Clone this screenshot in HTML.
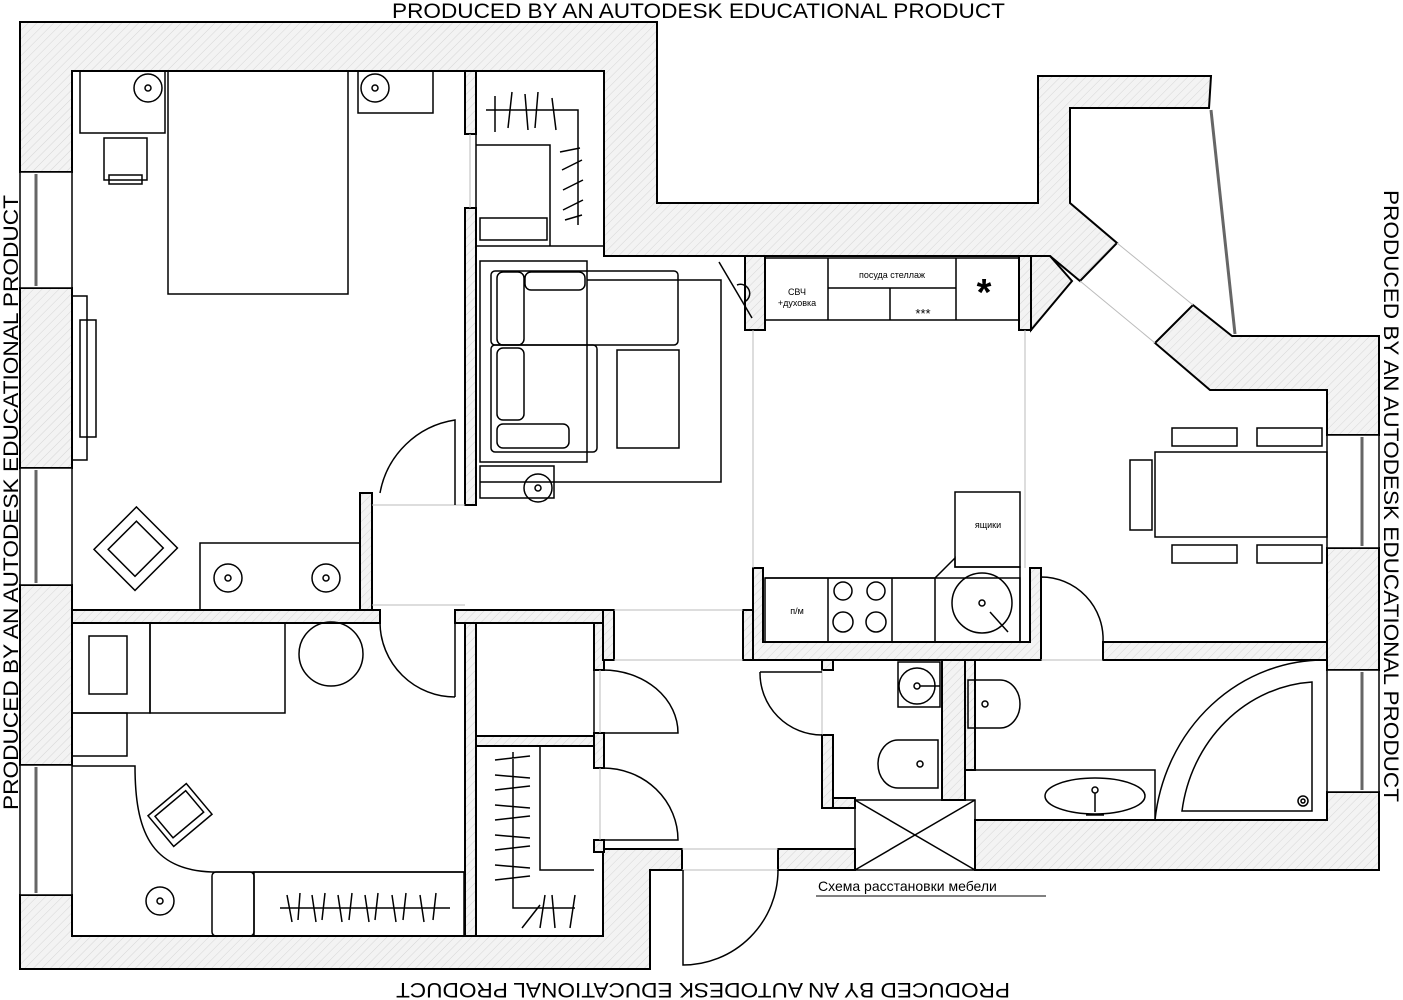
<!DOCTYPE html>
<html><head><meta charset="utf-8"><style>
html,body{margin:0;padding:0;background:#fff;width:1403px;height:1000px;overflow:hidden}
svg{display:block}
text{font-family:"Liberation Sans",sans-serif}
</style></head><body>
<svg width="1403" height="1000" viewBox="0 0 1403 1000" xmlns="http://www.w3.org/2000/svg">
<defs>
<pattern id="h" width="6" height="6" patternUnits="userSpaceOnUse" patternTransform="rotate(45)">
<rect width="6" height="6" fill="#f3f3f3"/><line x1="0" y1="0" x2="0" y2="6" stroke="#d6d6d6" stroke-width="1"/>
</pattern>
</defs>
<g stroke="#000" stroke-width="2" fill="url(#h)">
<!-- top wall -->
<polygon points="20,22 657,22 657,203 1038,203 1038,76 1211,76 1209,108 1070,108 1070,203 1117,243 1080,281 1050,256 604,256 604,71 72,71 72,172 20,172"/>
<!-- bay pillar -->
<polygon points="1193,305 1232,336 1379,336 1379,435 1327,435 1327,390 1210,390 1155,343"/>
<!-- left piers -->
<rect x="20" y="288" width="52" height="180"/>
<rect x="20" y="585" width="52" height="180"/>
<polygon points="20,895 72,895 72,936 603,936 603,849 682,849 682,870 650,870 650,969 20,969"/>
<!-- right pier -->
<rect x="1327" y="548" width="52" height="122"/>
<polygon points="1327,792 1379,792 1379,870 975,870 975,820 1327,820"/>
<rect x="778" y="849" width="77" height="21"/>
<!-- interior walls -->
<rect x="465" y="71" width="11" height="63"/>
<rect x="465" y="208" width="11" height="297"/>
<rect x="360" y="493" width="12" height="117"/>
<rect x="72" y="610" width="308" height="13"/>
<rect x="455" y="610" width="149" height="13"/>
<rect x="465" y="623" width="11" height="313"/>
<rect x="476" y="736" width="128" height="10"/>
<rect x="594" y="623" width="10" height="47"/>
<rect x="594" y="733" width="10" height="35"/>
<rect x="594" y="840" width="10" height="12"/>
<rect x="603" y="610" width="11" height="50"/>
<rect x="743" y="610" width="10" height="50"/>
<polygon points="753,568 763,568 763,642 1030,642 1030,568 1041,568 1041,660 753,660"/>
<rect x="1103" y="642" width="224" height="18"/>
<rect x="745" y="256" width="20" height="74"/>
<rect x="1019" y="256" width="12" height="74"/>
<polygon points="1031,256 1050,256 1072,281 1031,330"/>
<rect x="822" y="660" width="11" height="10"/>
<rect x="822" y="735" width="11" height="73"/>
<rect x="833" y="798" width="22" height="10"/>
<rect x="942" y="660" width="23" height="140"/>
<rect x="965" y="660" width="10" height="110"/>
</g>
<!-- windows -->
<g stroke="#000" stroke-width="1.5" fill="#fff">
<rect x="20" y="172" width="52" height="116"/><rect x="20" y="468" width="52" height="117"/><rect x="20" y="765" width="52" height="130"/>
<rect x="1327" y="435" width="52" height="113"/><rect x="1327" y="670" width="52" height="122"/>
</g>
<g stroke="#666" stroke-width="3">
<line x1="36" y1="174" x2="36" y2="286"/><line x1="36" y1="470" x2="36" y2="583"/><line x1="36" y1="767" x2="36" y2="893"/>
<line x1="1362" y1="437" x2="1362" y2="546"/><line x1="1362" y1="672" x2="1362" y2="790"/>
<line x1="1211" y1="110" x2="1235" y2="334"/>
</g>
<!-- light lines -->
<g stroke="#bbb" stroke-width="1">
<line x1="372" y1="505" x2="465" y2="505"/><line x1="372" y1="605" x2="465" y2="605"/>
<line x1="614" y1="610" x2="743" y2="610"/><line x1="614" y1="660" x2="743" y2="660"/>
<line x1="753" y1="330" x2="753" y2="568"/><line x1="1025" y1="330" x2="1025" y2="568"/>
<line x1="1080" y1="281" x2="1155" y2="343"/><line x1="1117" y1="243" x2="1193" y2="305"/>
<line x1="1041" y1="660" x2="1103" y2="660"/><line x1="682" y1="849" x2="778" y2="849"/><line x1="682" y1="870" x2="778" y2="870"/>
<line x1="470" y1="134" x2="470" y2="208"/><line x1="600" y1="670" x2="600" y2="733"/><line x1="600" y1="768" x2="600" y2="840"/>
<line x1="822" y1="670" x2="822" y2="735"/>
</g>
<g stroke="#000" stroke-width="1.5" fill="none">
<!-- bedroom -->
<rect x="80" y="71" width="85" height="62"/><circle cx="148" cy="88" r="14"/><circle cx="148" cy="88" r="3"/>
<rect x="168" y="71" width="180" height="223"/>
<rect x="358" y="71" width="75" height="42"/><circle cx="375" cy="88" r="14"/><circle cx="375" cy="88" r="3"/>
<rect x="104" y="138" width="43" height="42"/><rect x="109" y="175" width="33" height="9"/>
<rect x="72" y="296" width="15" height="164"/><rect x="80" y="320" width="16" height="117"/>
<g transform="rotate(-45 135 548)"><rect x="105" y="520" width="60" height="58"/><rect x="115" y="530" width="40" height="38"/></g>
<rect x="200" y="543" width="160" height="67"/><circle cx="228" cy="578" r="14"/><circle cx="228" cy="578" r="3"/><circle cx="326" cy="578" r="14"/><circle cx="326" cy="578" r="3"/>
<path d="M380,493 A90 90 0 0 1 455,420 L455,505"/>
<!-- closet top -->
<rect x="476" y="71" width="128" height="175"/>
<polyline points="476,145 550,145 550,246"/><rect x="480" y="218" width="67" height="22"/>
<path d="M486,110 L578,110 L578,225 M495,96 L495,132 M512,92 L508,128 M525,94 L528,130 M538,92 L535,128 M552,98 L556,130 M580,148 L560,152 M582,160 L562,170 M583,180 L563,190 M583,200 L563,210 M582,215 L565,220"/>
<!-- living -->
<rect x="480" y="261" width="107" height="201"/>
<polyline points="587,280 721,280 721,482 480,482"/>
<rect x="491" y="271" width="187" height="74" rx="4"/><rect x="491" y="345" width="106" height="107" rx="4"/>
<rect x="497" y="272" width="27" height="73" rx="6"/><rect x="525" y="272" width="60" height="18" rx="6"/>
<rect x="497" y="348" width="27" height="72" rx="6"/><rect x="497" y="424" width="72" height="24" rx="6"/>
<rect x="617" y="350" width="62" height="98"/>
<rect x="480" y="466" width="74" height="32"/><circle cx="538" cy="488" r="14"/><circle cx="538" cy="488" r="3"/>
<line x1="719" y1="262" x2="752" y2="318"/><path d="M737,285 A8 8 0 0 1 744,302"/>
<!-- kitchen -->
<rect x="765" y="258" width="254" height="62"/>
<line x1="828" y1="258" x2="828" y2="320"/><line x1="956" y1="258" x2="956" y2="320"/><line x1="828" y1="288" x2="956" y2="288"/><line x1="890" y1="288" x2="890" y2="320"/>
<rect x="955" y="492" width="65" height="75"/>
<polyline points="765,578 935,578 955,558 955,567 1020,567 1020,642"/>
<rect x="765" y="578" width="255" height="64"/>
<line x1="828" y1="578" x2="828" y2="642"/><line x1="892" y1="578" x2="892" y2="642"/><line x1="935" y1="578" x2="935" y2="642"/>
<circle cx="843" cy="591" r="9"/><circle cx="876" cy="591" r="9"/><circle cx="843" cy="622" r="10"/><circle cx="876" cy="622" r="10"/>
<circle cx="982" cy="603" r="30"/><circle cx="982" cy="603" r="3"/><line x1="990" y1="612" x2="1008" y2="632"/>
<!-- dining -->
<rect x="1155" y="452" width="172" height="85"/><rect x="1130" y="460" width="22" height="70"/>
<rect x="1172" y="428" width="65" height="18"/><rect x="1257" y="428" width="65" height="18"/>
<rect x="1172" y="545" width="65" height="18"/><rect x="1257" y="545" width="65" height="18"/>
<path d="M1041,577 A62 62 0 0 1 1103,642 L1103,660 M1041,577 L1041,642"/>
<!-- bathroom -->
<rect x="898" y="662" width="42" height="45"/><circle cx="917" cy="686" r="18"/><circle cx="917" cy="686" r="3"/><line x1="920" y1="686" x2="940" y2="686"/>
<path d="M938,740 L898,740 A20 24 0 0 0 898,788 L938,788 Z"/><circle cx="920" cy="764" r="3"/>
<path d="M968,680 L1000,680 A20 24 0 0 1 1000,728 L968,728 Z"/><circle cx="985" cy="704" r="3"/>
<polyline points="965,770 1155,770 1155,820"/>
<ellipse cx="1095" cy="796" rx="50" ry="18"/><circle cx="1095" cy="790" r="3"/><line x1="1095" y1="793" x2="1095" y2="812"/><line x1="1086" y1="815" x2="1104" y2="815"/>
<path d="M1155,820 A170 180 0 0 1 1327,660"/><path d="M1182,811 A140 150 0 0 1 1312,682 L1312,811 Z"/>
<circle cx="1303" cy="801" r="5"/><circle cx="1303" cy="801" r="2"/>
<rect x="855" y="800" width="120" height="70"/><line x1="855" y1="800" x2="975" y2="870"/><line x1="975" y1="800" x2="855" y2="870"/>
<path d="M760,672 L822,672 M760,672 A62 62 0 0 0 822,735"/>
<!-- kids -->
<rect x="72" y="623" width="78" height="90"/><rect x="89" y="636" width="38" height="58"/>
<rect x="150" y="623" width="135" height="90"/><circle cx="331" cy="654" r="32"/>
<rect x="72" y="713" width="55" height="43"/>
<path d="M72,766 L135,766 C135,830 150,870 212,872 L464,872"/>
<g transform="rotate(-40 180 815)"><rect x="155" y="795" width="50" height="40"/><rect x="160" y="800" width="40" height="28"/></g>
<circle cx="160" cy="901" r="14"/><circle cx="160" cy="901" r="3"/>
<rect x="212" y="872" width="42" height="64" rx="4"/><rect x="254" y="872" width="210" height="64"/>
<path d="M280,908 L450,908 M287,895 L292,922 M300,893 L298,920 M312,895 L316,922 M325,893 L322,920 M338,895 L342,922 M352,893 L349,920 M365,895 L369,922 M378,893 L375,920 M392,895 L396,922 M406,893 L403,920 M420,895 L424,922 M436,893 L433,920"/>
<path d="M455,697 L455,623 M380,623 A75 75 0 0 0 455,697"/>
<!-- closets lower -->
<rect x="476" y="623" width="118" height="113"/>
<polyline points="540,746 540,870 594,870"/>
<path d="M513,752 L513,908 L575,908 M495,760 L530,756 M495,775 L530,778 M495,790 L530,786 M495,805 L530,808 M495,820 L530,816 M495,835 L530,838 M495,850 L530,846 M495,865 L530,868 M495,880 L530,876 M522,928 L540,905 M540,928 L545,895 M555,928 L552,895 M570,928 L575,895"/>
<path d="M603,670 A75 63 0 0 1 678,733 L603,733"/>
<path d="M603,768 A75 72 0 0 1 678,840 L603,840"/>
<path d="M683,870 L683,965 A95 95 0 0 0 778,870"/>
</g>
<!-- labels -->
<g fill="#000" font-size="9">
<text x="797" y="295" text-anchor="middle">СВЧ</text>
<text x="797" y="306" text-anchor="middle">+духовка</text>
<text x="892" y="278" text-anchor="middle">посуда стеллаж</text>
<text x="923" y="318" text-anchor="middle" font-size="13">***</text>
<text x="984" y="305" text-anchor="middle" font-size="38" font-weight="bold">*</text>
<text x="988" y="528" text-anchor="middle">ящики</text>
<text x="797" y="614" text-anchor="middle">п/м</text>
</g>
<text x="818" y="891" font-size="14" fill="#000">Схема расстановки мебели</text>
<line x1="816" y1="896" x2="1046" y2="896" stroke="#000" stroke-width="1"/>
<g fill="#000" font-size="21">
<text x="392" y="18" textLength="613" lengthAdjust="spacingAndGlyphs">PRODUCED BY AN AUTODESK EDUCATIONAL PRODUCT</text>
<text transform="translate(18,810) rotate(-90)" textLength="615" lengthAdjust="spacingAndGlyphs">PRODUCED BY AN AUTODESK EDUCATIONAL PRODUCT</text>
<text transform="translate(1384,190) rotate(90)" textLength="612" lengthAdjust="spacingAndGlyphs">PRODUCED BY AN AUTODESK EDUCATIONAL PRODUCT</text>
<text transform="translate(1010,983) rotate(180)" textLength="614" lengthAdjust="spacingAndGlyphs">PRODUCED BY AN AUTODESK EDUCATIONAL PRODUCT</text>
</g>
</svg>
</body></html>
